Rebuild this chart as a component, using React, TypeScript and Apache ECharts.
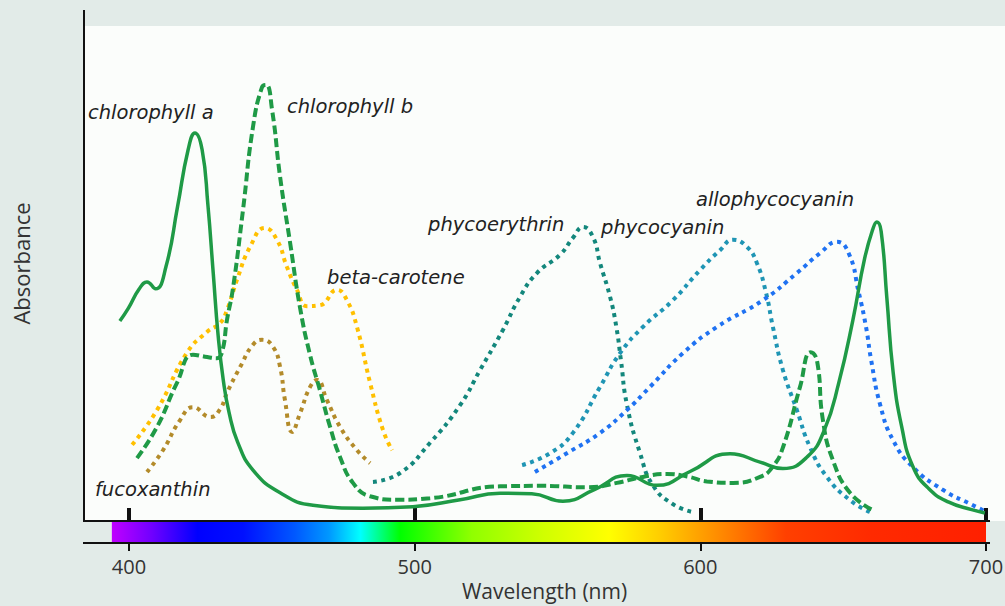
import React, { useEffect, useRef } from "react";
import * as echarts from "echarts";

// ---- data: [wavelength (nm), relative absorbance] ----
const chlorophyllA: [number, number][] = [
  [396.8, 40.4], [399.8, 43.0], [403.5, 46.8], [406.3, 48.3], [409.3, 46.9], [413.0, 51.5],
  [417.0, 63.5], [420.7, 75.0], [423.1, 78.4], [425.6, 75.0], [427.6, 64.0], [429.5, 50.0],
  [431.2, 37.5], [433.0, 28.5], [435.0, 22.0], [438.0, 16.0], [443.4, 10.3], [452.9, 5.7],
  [464.4, 3.2], [481.9, 2.6], [499.4, 2.9], [515.9, 4.3], [529.9, 5.6], [541.0, 5.5],
  [551.9, 4.0], [563.1, 6.4], [574.3, 9.2], [584.8, 7.2], [596.4, 10.0], [610.4, 13.6],
  [620.9, 11.9], [628.9, 10.6], [637.5, 13.0], [643.5, 18.5], [648.5, 28.0], [653.4, 40.6],
  [657.5, 53.0], [660.4, 59.0], [661.8, 60.4], [663.3, 58.5], [665.3, 45.0], [667.5, 30.0],
  [670.5, 19.0], [674.4, 11.0], [680.0, 6.5], [687.0, 3.8], [695.0, 2.3], [699.6, 1.6],
];
const chlorophyllB: [number, number][] = [
  [402.8, 12.7], [409.8, 19.0], [416.8, 27.9], [422.4, 33.6], [426.6, 33.2], [430.8, 32.9],
  [432.6, 34.2], [434.3, 40.6], [436.4, 47.0], [439.9, 62.8], [443.4, 79.6], [446.6, 87.7],
  [448.0, 88.1], [450.1, 83.0], [452.9, 69.5], [456.4, 56.2], [459.9, 43.0], [463.4, 33.5],
  [466.9, 26.3], [470.4, 19.0], [473.9, 12.9], [478.4, 7.7], [484.4, 5.0], [493.8, 4.3],
  [505.4, 4.6], [529.9, 7.0], [544.9, 7.1], [560.3, 6.8], [570.8, 7.7], [579.9, 8.9],
  [588.3, 9.5], [595.3, 9.0], [602.3, 8.0], [611.4, 7.7], [620.9, 8.9], [625.4, 11.0],
  [629.0, 15.0], [634.9, 27.1], [638.6, 34.1], [640.8, 32.5], [642.9, 20.4], [646.4, 12.3],
  [652.4, 5.7], [660.4, 2.2],
];
const betaCarotene: [number, number][] = [
  [401.1, 15.4], [409.8, 22.4], [420.3, 34.0], [427.3, 38.2], [431.9, 40.0], [434.3, 42.6],
  [437.8, 48.7], [442.4, 55.4], [447.6, 59.2], [451.8, 56.8], [455.3, 51.3], [458.8, 46.7],
  [462.3, 43.4], [466.9, 43.6], [472.8, 46.7], [476.3, 44.6], [479.8, 39.2], [484.4, 27.9],
  [488.9, 18.4], [492.1, 14.3],
];
const fucoxanthin: [number, number][] = [
  [406.3, 9.9], [411.9, 14.3], [417.9, 20.4], [422.4, 23.0], [428.5, 21.0], [431.9, 22.6],
  [434.3, 25.9], [438.9, 31.1], [443.4, 35.6], [446.6, 36.6], [450.4, 35.2], [452.9, 31.1],
  [454.6, 24.4], [457.1, 18.0], [459.9, 21.8], [463.4, 27.1], [465.8, 28.5], [469.3, 24.4],
  [473.9, 19.0], [479.8, 14.3], [484.4, 11.7],
];
const phycoerythrin: [number, number][] = [
  [485.4, 7.9], [494.9, 9.7], [505.4, 15.8], [515.9, 23.4], [522.9, 30.5], [530.9, 38.6],
  [536.9, 45.3], [542.8, 50.1], [550.9, 53.8], [555.4, 57.2], [558.9, 59.4], [562.4, 57.4],
  [564.9, 52.1], [568.4, 45.3], [570.6, 39.2], [572.2, 32.5], [574.3, 23.5], [578.9, 13.7],
  [583.4, 7.2], [590.4, 3.4], [597.4, 1.8],
];
const phycocyanin: [number, number][] = [
  [537.6, 11.3], [547.4, 13.7], [555.4, 17.8], [564.9, 27.1], [571.9, 33.9], [579.9, 39.2],
  [590.4, 44.6], [599.9, 50.7], [606.9, 54.7], [611.4, 56.8], [616.3, 55.4], [619.8, 52.1],
  [623.0, 46.1], [625.4, 39.2], [628.9, 30.5], [633.8, 22.4], [638.4, 14.9], [644.3, 8.9],
  [652.4, 4.2], [659.4, 1.8],
];
const allophycocyanin: [number, number][] = [
  [542.1, 9.9], [553.3, 13.7], [564.9, 17.8], [574.3, 22.4], [582.4, 27.1], [593.9, 33.9],
  [605.8, 39.2], [621.9, 44.6], [633.8, 50.1], [641.9, 54.1], [647.8, 56.4], [652.0, 54.0],
  [655.4, 46.3], [658.0, 39.2], [659.8, 32.5], [662.9, 23.6], [667.4, 16.4], [674.4, 10.9],
  [684.9, 6.3], [695.0, 3.3], [700.3, 1.8],
];

const tickValues = [400, 500, 600, 700];
const pigmentNames = [
  "chlorophyll a", "chlorophyll b", "beta-carotene", "fucoxanthin",
  "phycoerythrin", "phycocyanin", "allophycocyanin",
];
// visible spectrum strip: [wavelength, colour]
const spectrumStops: [number, string][] = [
  [394, "#c000ff"], [408, "#7000ff"], [424, "#0000ff"], [440, "#0010ff"], [458, "#0058ff"],
  [470, "#0098ff"], [481, "#00ffff"], [495, "#00ff00"], [520, "#90ff00"], [545, "#d0ff00"],
  [568, "#ffff00"], [585, "#ffd000"], [600, "#ffa000"], [615, "#ff7000"], [630, "#ff4000"],
  [660, "#ff2a00"], [700, "#ff2000"],
];

const X_MIN = 384.25;
const X_MAX = 706.65;

export default function App() {
  const ref = useRef<HTMLDivElement>(null);
  useEffect(() => {
    if (!ref.current) return;
    const chart = echarts.init(ref.current, null, { renderer: "svg", width: 1005, height: 606 });
    const green = "#1f9a46";
    const dotted = (color: string) => ({ color, width: 4, type: [4, 4.5] as any, cap: "butt" as any });
    const mk = (name: string, data: [number, number][], lineStyle: any) => ({
      name, type: "line", data, showSymbol: false, symbol: "none", smooth: 0.5,
      lineStyle, itemStyle: { color: lineStyle.color }, z: 3,
    });
    chart.setOption({
      animation: false,
      backgroundColor: "#e2ebe8",
      grid: {
        left: 84, right: 0, top: 26, bottom: 85, show: true, backgroundColor: "#fbfdfb", borderWidth: 0,
        containLabel: false, outerBoundsMode: "none",
      },
      xAxis: [
        {
          type: "value", min: X_MIN, max: X_MAX, position: "bottom",
          axisLine: { show: false }, splitLine: { show: false }, axisLabel: { show: false },
          axisTick: { show: true, inside: true, length: 13, customValues: tickValues, lineStyle: { color: "#111", width: 4 } },
        },
        {
          type: "value", min: X_MIN, max: X_MAX, position: "bottom", offset: 22,
          axisLine: { show: false }, splitLine: { show: false },
          axisTick: { show: true, inside: false, length: 8, customValues: tickValues, lineStyle: { color: "#111", width: 2 } },
          axisLabel: { show: true, customValues: tickValues, margin: 13, fontSize: 20, color: "#333", fontFamily: "Open Sans" },
          name: "Wavelength (nm)", nameLocation: "middle", nameGap: 37,
          nameTextStyle: { fontSize: 21, color: "#333", fontFamily: "Open Sans", lineHeight: 21 },
        },
      ],
      yAxis: {
        type: "value", min: 0, max: 100,
        axisLine: { show: false }, axisTick: { show: false }, axisLabel: { show: false }, splitLine: { show: false },
        name: "Absorbance", nameLocation: "middle", nameGap: 52, nameRotate: 90,
        nameTextStyle: { fontSize: 22, color: "#333", fontFamily: "Open Sans", padding: [0, 0, 0, 20] },
      },
      series: [
        mk(pigmentNames[2], betaCarotene, dotted("#ffc000")),
        mk(pigmentNames[3], fucoxanthin, dotted("#b38b2a")),
        mk(pigmentNames[4], phycoerythrin, dotted("#13877c")),
        mk(pigmentNames[5], phycocyanin, dotted("#1f95b4")),
        mk(pigmentNames[6], allophycocyanin, dotted("#1f72f2")),
        mk(pigmentNames[1], chlorophyllB, { color: green, width: 4, type: [9, 4] }),
        mk(pigmentNames[0], chlorophyllA, { color: green, width: 3.5, type: "solid" }),
      ],
    });

    const px = (v: number) => chart.convertToPixel({ xAxisIndex: 0 }, v) as number;
    const x0 = px(spectrumStops[0][0]);
    const x1 = px(spectrumStops[spectrumStops.length - 1][0]);
    const span = spectrumStops[spectrumStops.length - 1][0] - spectrumStops[0][0];
    const labelStyle = { fill: "#222", fontSize: 19.5, fontStyle: "italic", fontFamily: "DejaVu Sans", textVerticalAlign: "middle" };
    const labelPos: [number, number][] = [
      [88, 112], [287, 106], [327, 277], [95, 489], [428, 224], [601, 227], [696, 199],
    ];
    chart.setOption({
      graphic: [
        {
          type: "rect", shape: { x: x0, y: 521, width: x1 - x0, height: 22 }, z: 1,
          style: {
            fill: new echarts.graphic.LinearGradient(0, 0, 1, 0,
              spectrumStops.map(([w, c]) => ({ offset: (w - spectrumStops[0][0]) / span, color: c }))),
          },
        },
        { type: "line", shape: { x1: 84, y1: 10, x2: 84, y2: 522 }, style: { stroke: "#111", lineWidth: 2 }, z: 5 },
        { type: "line", shape: { x1: 83, y1: 521, x2: 990, y2: 521 }, style: { stroke: "#111", lineWidth: 2 }, z: 5 },
        { type: "line", shape: { x1: 83, y1: 543, x2: 990, y2: 543 }, style: { stroke: "#111", lineWidth: 2 }, z: 5 },
        ...pigmentNames.map((n, i) => ({
          type: "text", x: labelPos[i][0], y: labelPos[i][1], z: 6,
          style: { ...labelStyle, text: n },
        })),
      ],
    });
    return () => chart.dispose();
  }, []);
  return (
    <div style={{ position: "fixed", left: 0, top: 0, width: 1005, height: 606, background: "#e2ebe8" }}>
      <div ref={ref} style={{ width: 1005, height: 606 }} />
    </div>
  );
}
